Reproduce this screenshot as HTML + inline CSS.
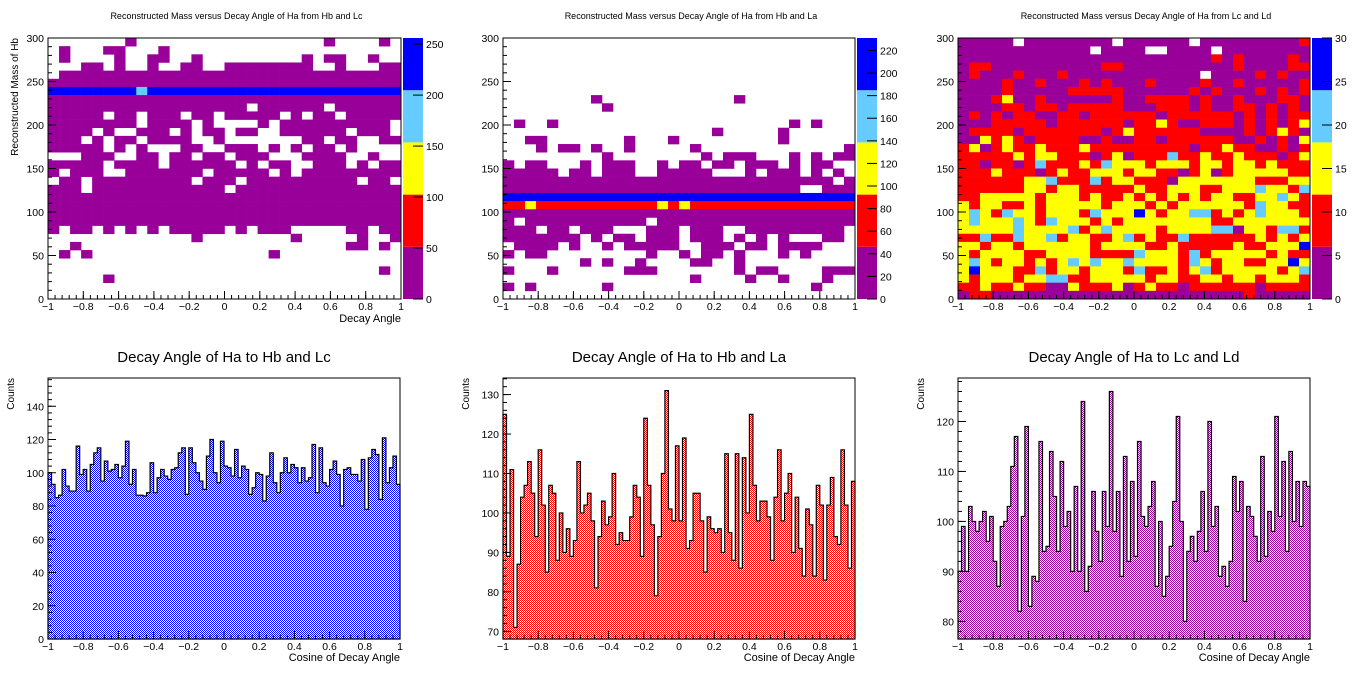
<!DOCTYPE html>
<html><head><meta charset="utf-8">
<style>
html,body{margin:0;padding:0;background:#fff;}
svg{display:block;font-family:"Liberation Sans",Arial,sans-serif;}
</style></head>
<body>
<svg id="c" width="1360" height="676" viewBox="0 0 1360 676" xmlns="http://www.w3.org/2000/svg">
<defs>
<pattern id="patB" width="2" height="2" patternUnits="userSpaceOnUse"><rect width="2" height="2" fill="#fff"/><rect width="1" height="1" fill="#0000ff"/><rect x="1" y="1" width="1" height="1" fill="#0000ff"/></pattern>
<pattern id="patR" width="2" height="2" patternUnits="userSpaceOnUse"><rect width="2" height="2" fill="#fff"/><rect width="1" height="1" fill="#ff0000"/><rect x="1" y="1" width="1" height="1" fill="#ff0000"/></pattern>
<pattern id="patP" width="2" height="2" patternUnits="userSpaceOnUse"><rect width="2" height="2" fill="#fff"/><rect width="1" height="1" fill="#990099"/><rect x="1" y="1" width="1" height="1" fill="#990099"/></pattern>
</defs>
</svg>
<script>
// ---------- data ----------
const xTicks = [-1,-0.8,-0.6,-0.4,-0.2,0,0.2,0.4,0.6,0.8,1];
const xTickLabels = ["\u22121","\u22120.8","\u22120.6","\u22120.4","\u22120.2","0","0.2","0.4","0.6","0.8","1"];
const massTicks = [0,50,100,150,200,250,300];
const cb1Max = 256, cb1Ticks = [0,50,100,150,200,250];
const cb2Max = 231, cb2Ticks = [0,20,40,60,80,100,120,140,160,180,200,220];
const cb3Max = 30, cb3Ticks = [0,5,10,15,20,25,30];

// heatmap rows, top (mass 300) to bottom (mass 0), 32 angle bins each
const hm1 = [
".......p ........ ........ .p....p.",
".p...pp. ..p..... ........ ........",
".p....p. .pp..p.. .......p .pp..p..",
"...pp.p. .p..pp.. pppppppp ..p...pp",
".ppppppp pppppppp pppppppp pppppppp",
"pppppppp pppppppp pppppppp pppppppp",
"bbbbbbbb cbbbbbbb bbbbbbbb bbbbbbbb",
"pppppppp pppppppp pppppppp pppppppp",
"pppppppp pppppppp pp.ppppp p.pppppp",
"ppppp.pp .ppp.pp. ppppp.p. pp.ppppp",
"pppppppp .pppp.p. ...p.ppp ppppppp.",
"pppp.p.. ppp.p.pp .pp..ppp ppp.ppp.",
"ppp.p.pp .pppp..p .......p p.pp..pp",
"ppppp.p. p...pp.. ppp.p.p. pp.p....",
"...ppp.. pp.pp.pp .ppp...p ppp..p..",
"ppppp.pp pp.ppppp p.p.pp.. ppp.p.pp",
"p.ppp..p pppppp.p pppp.p.p pppppppp",
".pp.pppp ppppp.pp p.pppppp pppp.pp.",
"ppp.pppp pppppppp .ppppppp pppppppp",
"pppppppp pppppppp pppppppp pppppppp",
"pppppppp pppppppp pppppppp pppppppp",
"pppppppp pppppppp pppppppp pppppppp",
"pppppppp pppppppp pppppppp pppppppp",
"p.pp.p.p .p.ppppp .p.ppp.. ...pp.pp",
"........ .....p.. ......p. ....p..p",
"..p..... ........ ........ ...pp.p.",
".p.p.... ........ ....p... ........",
"........ ........ ........ ........",
"........ ........ ........ ......p.",
".....p.. ........ ........ ........",
"........ ........ ........ ........",
"........ ........ ........ ........"];

const hm2 = [
"........ ........ ........ ........",
"........ ........ ........ ........",
"........ ........ ........ ........",
"........ ........ ........ ........",
"........ ........ ........ ........",
"........ ........ ........ ........",
"........ ........ ........ ........",
"........ p....... .....p.. ........",
"........ .p...... ........ ........",
"........ ........ ........ ........",
".p..p... ........ ........ ..p.p...",
"........ ........ ...p.... .p......",
"..pp.... ...p...p ........ .p......",
"...p.pp. p..p.... .p...... .......p",
"........ .p...... ..p.ppp. ..p.p.pp",
"p.pp...p .ppp..p. pp.pp.pp p.p.pp..",
"ppppp.pp .ppp..pp ppp...p. ppp.p.p.",
"pppppppp pppppppp pppppppp pppppp.p",
"pppppppp pppppppp pppppppp ppp..ppp",
"bbbbbbbb bbbbbbbb bbbbbbbb bbbbbbbb",
"rryrrrrr rrrrrryr yrrrrrrr rrrrrrrr",
"pppppppp pppppppp pppppppp pppppppp",
"p.pppppp ppppp.pp pppppppp pppppppp",
"ppp.pp.p pp...ppp .ppp..pp ppppppp.",
"ppppppp. p.pp.ppp .ppp.p.p .p...pp.",
".pppp.p. .p.ppppp ..ppp.pp .pppp...",
"p.pp.... .....p.. p.pp.p.. .p.p....",
".......p .p..p... .pp..p.. ........",
"p...p... ...ppp.. .....p.p p....ppp",
"........ ........ .p....p. .p...p..",
"p.p..... .p...... ........ ....p...",
"........ ........ ........ ........"];

const hm3 = [
"ppppp.pp pppppp.p ppppp.pp pppppppr",
"pppppppp pppp.ppp p..pppp. pppppppp",
"pppppppp pppppppp pppppppr prpppprp",
"prrppppp ppppprrp pppppppp prpppprr",
"prppprpp prpppppp pppppp.p ppprprpp",
"pppprppr ppprprpp prpppprp prpppppr",
"pppprppp pprrrrrp ppppprpr ppprprpr",
"pppryppr pppppprp prrrrprp prppprrp",
"pppprrpr rprrrrrp pprrrprp prrprprp",
"prprprrp prrprrrr rrprrrrr rprprprr",
"ppprrrrr prrrrrrp rryrpprr rprprpry",
"prrrrprr rrrrrpry rrrrrrpp pprpryrp",
"ppyryrpr rrrpprpp rrprrrrr rpprprpy",
"rypryrry rrryrrrr rrrrrprr yrrpprpr",
"rrrrryry yrrrpryp rrrcrryr ryrrrpry",
"rrprrprc rrryrcyy yryyyryy ryyryrrr",
"rrryrrrp ryrryyyr yyrrpryp ryyyyyrr",
"rrrrrryy crrrcryy rrrpyyyy yyyrrryy",
"rrrrrryy ryyrrrrr yrryyyrr yyycyyrc",
"rryyyyyr yyyryrry ryryryry yrryycyr",
"yryyrryr yyyyyryy yryryyyy yyrcyyrr",
"ycyrcyyr yyyrcyyy byryyccr yrycyyyr",
"ycyyycyr cyyyryry yyyyyyyr ryyyyyyy",
"yyyyycyy yycrycyy yyryyyyc cpyyrccr",
"rrcrrcyy cryyrryc ryrrcrrr rrryryry",
"yyryyryy yyyyryyy yrryrrrr ryrryyyb",
"yryyyyrr yyyyrrrr cyyyrcry yyyyryrr",
"ycyryyry rycycyyc yyyyrcyr yyrryyby",
"ybyyyrrc ryyryyyr crryrycr yyyyyryc",
"yryyyryy ccrryyyy yryyrryy ryyryyyr",
"rryrryrr ppyrrryp ryrrprrr rrrprrrr",
"prrppppp pppppppp pppppppp pprppppp"];

// histogram contents, 100 bins from -1 to 1
const h1Counts = [100,93,85,86.5,102,92,89,89,116,99,102,89,105,112,115,95,107,101,102,105,97,104,119,93,102,86.5,86.5,86,88,106,88,97,102,98,96,102,103,112,115,87,115,106,100,95,90,110,120,100,94,119,104,103,98,114,97,104,102,87,91,100,99,83,98,112,94,88,100,109,100,105,103,94,103,95,97,117,88,115,94,92,102,107,99,80,102,103,99,99,95,108,78,109,114,111,84,121,94,103,110,93];
const h2Counts = [125,89,111,71,87,104,107,113,105,94,116,102,85,107,105,88,100,90,96,89,93,113,100,102,105,98,81,94,103,97,99,110,92,95,93,93,99,107,104,89,124,107,97,79,94,110,131,101,98,117,98,119,91,93,105,105,98,85,99,96,95,96,90,115,95,88,115,86,114,100,125,107,98,103,103,99,88,104,116,98,105,110,90,104,91,84,101,97,84,107,102,83,102,109,94,92,116,102,86,108];
const h3Counts = [90,99,90,103,100,98,100,102,96,101,92,87,99,100,103,111,117,82,101,119,83,89,88,116,94,95,114,105,94,112,99,102,90,107,90,124,86,91,106,98,92,106,99,126,98,106,89,113,92,108,93,116,101,99,103,108,87,100,85,89,95,104,121,100,80,94,97,92,98,106,94,120,99,103,89,91,87,92,109,102,108,84,103,101,97,92,113,93,102,98,121,101,112,94,114,100,108,99,108,107];
const h1Ticks = [0,20,40,60,80,100,120,140];
const h2Ticks = [70,80,90,100,110,120,130];
const h3Ticks = [80,90,100,110,120];

// ---------- drawing ----------
const NS = "http://www.w3.org/2000/svg";
const svg = document.getElementById('c');
function mk(tag, attrs, parent){
  const e = document.createElementNS(NS, tag);
  for (const k in attrs) e.setAttribute(k, attrs[k]);
  (parent||svg).appendChild(e);
  return e;
}
function txt(s, x, y, size, anchor, parent, rot){
  const t = mk('text', {x:x, y:y, 'font-size':size, 'text-anchor':anchor||'start', fill:'#000'}, parent);
  if (rot) t.setAttribute('transform', 'rotate(-90 '+x+' '+y+')');
  t.textContent = s;
  return t;
}
function lin(d0,d1,r0,r1){ return v => r0 + (v-d0)/(d1-d0)*(r1-r0); }
const colorMap = {p:'#990099', r:'#ff0000', y:'#ffff00', c:'#66ccff', b:'#0000ff'};

function axes(g, L, R, T, B, xs, ys, yTicks, yMinorStep, yMin, yMax){
  for (let i=0;i<xTicks.length;i++){
    const x = xs(xTicks[i]);
    mk('line',{x1:x,y1:B,x2:x,y2:B-8,stroke:'#000','stroke-width':1},g);
    txt(xTickLabels[i], x, B+11, 10.5, 'middle', g);
  }
  for (let v=-1; v<1; v+=0.04){
    const x = xs(v);
    mk('line',{x1:x,y1:B,x2:x,y2:B-4,stroke:'#000','stroke-width':1},g);
  }
  for (let v=Math.ceil(yMin/yMinorStep)*yMinorStep; v<=yMax+1e-9; v+=yMinorStep){
    const y = ys(v);
    mk('line',{x1:L,y1:y,x2:L+4,y2:y,stroke:'#000','stroke-width':1},g);
  }
  for (const v of yTicks){
    const y = ys(v);
    mk('line',{x1:L,y1:y,x2:L+8,y2:y,stroke:'#000','stroke-width':1},g);
    txt(String(v), L-4, y+4, 10.5, 'end', g);
  }
  mk('rect',{x:L,y:T,width:R-L,height:B-T,fill:'none',stroke:'#000','stroke-width':1},g);
}

function heat(id, data, L, R, cbMax, cbTicks, title, xTitle, yTitle){
  const T=38, B=299;
  const g = mk('g',{});
  
  
  const xs = lin(-1,1,L,R), ys = lin(0,300,B,T);
  const nx = 32;
  data.forEach((rowStr, ri) => {
    const row = rowStr.replace(/ /g,'');
    const ny = data.length;
    const m1 = 300 - ri*300/ny, m0 = 300 - (ri+1)*300/ny;
    for (let ci=0; ci<nx; ci++){
      const ch = row[ci];
      if (!colorMap[ch]) continue;
      const a0 = -1 + ci*2/nx, a1 = -1 + (ci+1)*2/nx;
      const r = mk('rect',{x:xs(a0), y:ys(m1), width:xs(a1)-xs(a0)+0.3, height:ys(m0)-ys(m1)+0.3, fill:colorMap[ch]}, g);
      
      
    }
  });
  axes(g, L, R, T, B, xs, ys, massTicks, 10, 0, 300);
  const cbL = R+2, cbR = R+22;
  const cs = lin(0, cbMax, B, T);
  const cols = ['p','r','y','c','b'];
  const cb = mk('g',{},g);
  
  
  cols.forEach((c,i)=>{
    const v0 = cbMax*i/5, v1 = cbMax*(i+1)/5;
    mk('rect',{x:cbL,y:cs(v1),width:cbR-cbL,height:cs(v0)-cs(v1),fill:colorMap[c]},cb);
  });
  for (const v of cbTicks){
    const y = cs(v);
    mk('line',{x1:cbR-10,y1:y,x2:cbR,y2:y,stroke:'#000','stroke-width':1},cb);
    txt(String(v), cbR+3, y+4, 10.5, 'start', cb);
  }
  const t = txt(title, (L+R)/2+12, 19, 9, 'middle', g);
  
  
  if (xTitle){
    const xt = txt(xTitle, R, B+23, 11, 'end', g);
    
    
  }
  if (yTitle){
    const yt = txt(yTitle, 18, T, 10, 'end', g, true);
    
    
  }
}

function hist(id, counts, L, R, yMin, yMax, yTicks, pat, title){
  const T=378, B=639;
  const g = mk('g',{});
  
  
  const xs = lin(-1,1,L,R), ys = lin(yMin,yMax,B,T);
  const n = counts.length;
  let d = 'M'+xs(-1)+','+B;
  counts.forEach((v,i)=>{
    const a0 = -1 + i*2/n, a1 = -1 + (i+1)*2/n;
    d += ' L'+xs(a0)+','+ys(v)+' L'+xs(a1)+','+ys(v);
  });
  d += ' L'+xs(1)+','+B+' Z';
  const p = mk('path',{d:d, fill:'url(#'+pat+')', stroke:'#000', 'stroke-width':1.2}, g);
  
  
  axes(g, L, R, T, B, xs, ys, yTicks, (yTicks[1]-yTicks[0])/5, yMin, yMax);
  const t = txt(title, (L+R)/2, 362, 15, 'middle', g);
  
  
  const xt = txt('Cosine of Decay Angle', R, B+22, 11, 'end', g);
  
  
  const yt = txt('Counts', L-34, T, 10, 'end', g, true);
  
  
}

heat('heatmap-hb-lc', hm1, 48, 401, cb1Max, cb1Ticks, 'Reconstructed Mass versus Decay Angle of Ha from Hb and Lc', 'Decay Angle', 'Reconstructed Mass of Hb');
heat('heatmap-hb-la', hm2, 503, 855, cb2Max, cb2Ticks, 'Reconstructed Mass versus Decay Angle of Ha from Hb and La', null, null);
heat('heatmap-lc-ld', hm3, 958, 1310, cb3Max, cb3Ticks, 'Reconstructed Mass versus Decay Angle of Ha from Lc and Ld', null, null);
hist('histogram-hb-lc', h1Counts, 48, 400, 0, 157, h1Ticks, 'patB', 'Decay Angle of Ha to Hb and Lc');
hist('histogram-hb-la', h2Counts, 503, 855, 68.06, 134.2, h2Ticks, 'patR', 'Decay Angle of Ha to Hb and La');
hist('histogram-lc-ld', h3Counts, 958, 1310, 76.47, 128.7, h3Ticks, 'patP', 'Decay Angle of Ha to Lc and Ld');
</script>
</body></html>
